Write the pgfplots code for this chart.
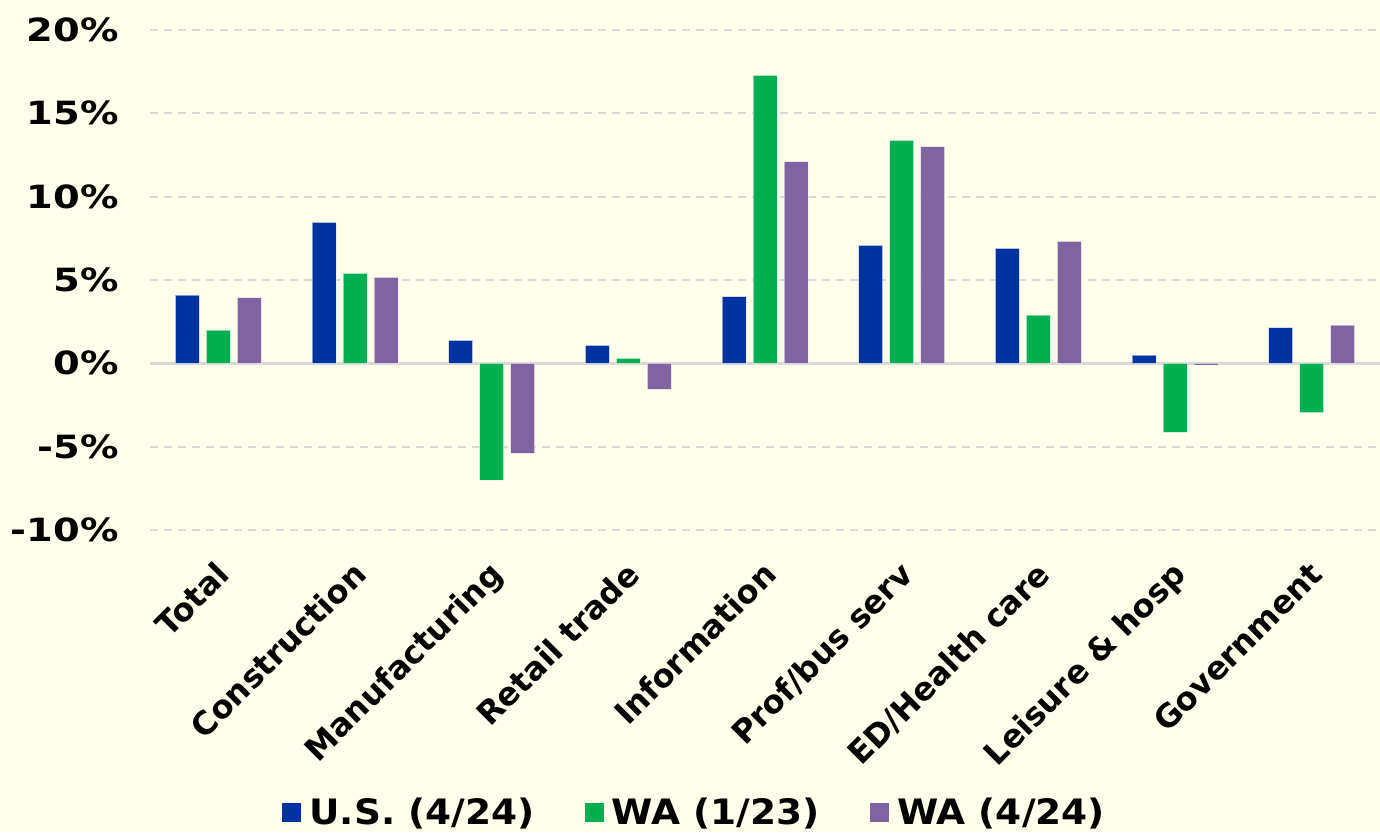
\documentclass[border=0pt]{standalone}
\usepackage{pgfplots}
\pgfplotsset{compat=1.18}
\usepackage{fontspec}
\setmainfont{DejaVu Sans}
\newfontfamily\widefont{DejaVu Sans}[FakeStretch=1.07]
\newfontfamily\tickfont{DejaVu Sans}[FakeStretch=1.2]
\usetikzlibrary{backgrounds}
\definecolor{bgc}{HTML}{FFFFEB}
\definecolor{cblue}{HTML}{0033A0}
\definecolor{cgreen}{HTML}{00B050}
\definecolor{cpurple}{HTML}{8064A2}
\definecolor{gridc}{HTML}{D9D9D9}
\begin{document}
\begin{tikzpicture}
\begin{axis}[name=ax, scale only axis, width=615bp, height=250bp,
  xmin=-0.5, xmax=8.5, ymin=-10, ymax=20,
  ybar=3.5bp, bar width=12bp,
  axis line style={draw=none},
  major tick length=0pt,
  xtick={0,...,8},
  xticklabels={Total,Construction,Manufacturing,Retail trade,Information,Prof/bus serv,ED/Health care,Leisure \& hosp,Government},
  xticklabel style={xshift=-2bp, yshift=-14.5bp, rotate=45, anchor=north east, inner sep=0pt, font=\fontsize{16bp}{19bp}\selectfont\bfseries},
  ytick={-10,-5,0,5,10,15,20},
  yticklabels={-10\%,-5\%,0\%,5\%,10\%,15\%,20\%},
  yticklabel style={anchor=east, inner sep=0pt, xshift=-15.5bp, font=\tickfont\fontsize{16bp}{19bp}\selectfont\bfseries},
  ymajorgrids, grid style={gridc, line width=1bp, dash pattern=on 4bp off 3bp},
  extra y ticks={0}, extra y tick labels={},
  extra y tick style={grid style={gridc, solid, line width=1.2bp}},
  legend style={at={(0.4435,-0.565)}, anchor=center, legend columns=3, draw=none, fill=none,
    font=\widefont\fontsize{17.5bp}{20bp}\selectfont\bfseries,
    /tikz/every even column/.append style={column sep=23bp}},
  legend image code/.code={\fill[#1,draw=none] (0bp,-4.75bp) rectangle (9.5bp,4.75bp); \path (11.5bp,0bp);},
  every axis plot/.append style={draw=white, draw opacity=0.5, line width=0.5bp},
]
\addplot[fill=cblue] coordinates {(0,4.1) (1,8.46) (2,1.38) (3,1.08) (4,4.0) (5,7.08) (6,6.9) (7,0.5) (8,2.15)};
\addplot[fill=cgreen] coordinates {(0,2.0) (1,5.4) (2,-7.0) (3,0.3) (4,17.28) (5,13.38) (6,2.9) (7,-4.14) (8,-2.95)};
\addplot[fill=cpurple] coordinates {(0,3.95) (1,5.16) (2,-5.4) (3,-1.56) (4,12.1) (5,13.0) (6,7.32) (7,-0.1) (8,2.3)};
\legend{U.S. (4/24),WA (1/23),WA (4/24)}
\end{axis}
\begin{scope}[on background layer]
\fill[bgc] ([xshift=-75bp,yshift=-151bp]ax.south west) rectangle ([yshift=15bp]ax.north east);
\end{scope}
\pgfresetboundingbox
\path ([xshift=-75bp,yshift=-151bp]ax.south west) rectangle ([yshift=15bp]ax.north east);
\end{tikzpicture}
\end{document}
